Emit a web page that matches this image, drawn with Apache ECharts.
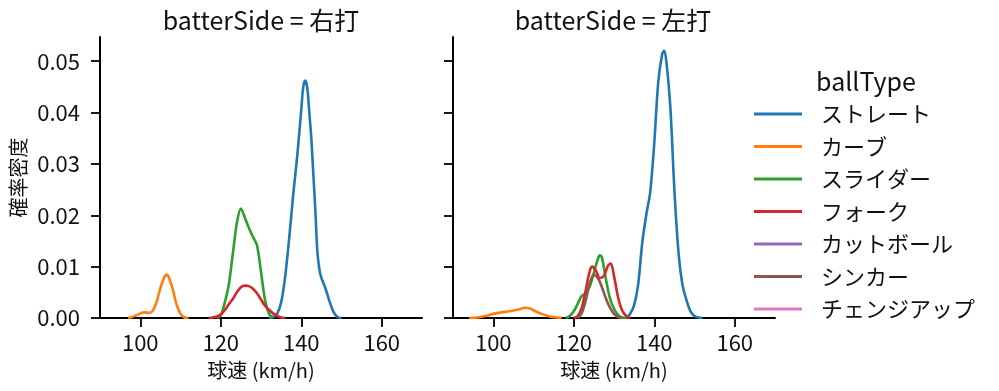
<!DOCTYPE html>
<html><head><meta charset="utf-8">
<script src="https://cdn.jsdelivr.net/npm/echarts@6/dist/echarts.min.js"></script>
<style>html,body{margin:0;padding:0;background:#fff}#c{width:999px;height:391px}</style>
</head><body><div id="c"></div>
<script>
// ---- data ----
const panels = ['右打', '左打'];
const ballTypes = ['ストレート', 'カーブ', 'スライダー', 'フォーク', 'カットボール', 'シンカー', 'チェンジアップ'];
const xTicks = [100, 120, 140, 160];
const yTicks = [0, 0.01, 0.02, 0.03, 0.04, 0.05];

// batterSide = 右打
const rStraight = [[132,0],[133,0.0002],[134,0.0008],[135,0.003],[136,0.008],[137,0.0155],[138,0.024],[139,0.0315],[140,0.0405],[140.5,0.045],[141,0.0462],[141.5,0.0448],[142,0.040],[142.5,0.035],[143,0.028],[143.5,0.021],[144,0.013],[144.5,0.0095],[145,0.0078],[146,0.0058],[147,0.0033],[148,0.0012],[149,0.0002],[150,0]];
const rCurve = [[97,0],[98,0.0002],[99,0.0005],[100,0.0009],[101,0.0011],[102,0.001],[103,0.0013],[104,0.003],[105,0.0058],[106,0.008],[106.5,0.0084],[107,0.0081],[108,0.0058],[109,0.0027],[110,0.0008],[111,0.0001],[112,0]];
const rSlider = [[119,0],[120,0.0005],[121,0.003],[122,0.0065],[123,0.0125],[124,0.0185],[125,0.0213],[126,0.0195],[127,0.0175],[128,0.0158],[129,0.0142],[130,0.009],[131,0.0035],[132,0.0008],[133,0]];
const rFork = [[117,0],[118,0.0001],[119,0.0003],[120,0.0007],[121,0.0015],[122,0.0027],[123,0.0037],[124,0.005],[125,0.006],[126,0.0063],[127,0.0062],[128,0.0057],[129,0.0048],[130,0.0036],[131,0.0024],[132,0.0016],[133,0.0009],[134,0.0004],[135,0.0001],[136,0]];

// batterSide = 左打
const lStraight = [[133,0],[134,0.0008],[135,0.0025],[136,0.0065],[137,0.0145],[138,0.020],[139,0.0245],[140,0.034],[141,0.046],[142,0.0515],[142.5,0.052],[143,0.050],[144,0.041],[145,0.025],[146,0.013],[147,0.0065],[148,0.0035],[149,0.0013],[150,0.0004],[151,0.0001],[152,0]];
const lCurve = [[94,0],[96,0.0001],[98,0.0004],[100,0.0008],[102,0.0011],[104,0.0013],[106,0.0016],[108,0.002],[109,0.0019],[110,0.0015],[112,0.0008],[114,0.0003],[116,0.0001],[117,0]];
const lSlider = [[118,0],[119,0.0004],[120,0.0013],[121,0.0028],[122,0.0043],[123,0.0048],[124,0.0062],[125,0.0088],[126,0.0115],[126.5,0.0122],[127,0.0118],[128,0.0075],[129,0.0038],[130,0.0018],[131,0.0006],[132,0.0001],[133,0]];
const lFork = [[120,0],[121,0.0004],[122,0.002],[123,0.0055],[124,0.0092],[124.6,0.010],[125.5,0.0092],[126.5,0.0078],[127.5,0.0082],[128.5,0.0102],[129.2,0.0106],[130,0.0082],[131,0.0041],[132,0.0015],[133,0.0004],[134,0]];
const lSinker = [[121,0],[122,0.001],[123,0.0035],[124,0.0068],[125,0.0084],[126,0.0078],[127,0.006],[128,0.0038],[129,0.002],[130,0.0008],[131,0.0002],[132,0]];

const panelData = [
  {'ストレート': rStraight, 'カーブ': rCurve, 'スライダー': rSlider, 'フォーク': rFork},
  {'ストレート': lStraight, 'カーブ': lCurve, 'スライダー': lSlider, 'フォーク': lFork, 'シンカー': lSinker}
];

// ---- style ----
const colors = ['#1f77b4', '#ff7f0e', '#2ca02c', '#d62728', '#9467bd', '#8c564b', '#e377c2'];
const FONT = '"Noto Sans CJK JP", "Noto Sans", sans-serif';
const gridLefts = [100, 453];

const grids = [], xAxes = [], yAxes = [], series = [];
panels.forEach((p, i) => {
  grids.push({left: gridLefts[i], top: 37, width: 322, height: 281});
  xAxes.push({
    type: 'value', gridIndex: i, min: 90, max: 170,
    axisLine: {show: true, lineStyle: {color: '#000', width: 2}},
    axisTick: {show: true, customValues: xTicks, length: 9, lineStyle: {color: '#000', width: 1.8}},
    axisLabel: {customValues: xTicks, fontSize: 22, color: '#111', margin: 14, fontFamily: FONT},
    splitLine: {show: false},
    name: '球速 (km/h)', nameLocation: 'middle', nameGap: 42,
    nameTextStyle: {fontSize: 20, color: '#111', fontFamily: FONT}
  });
  yAxes.push({
    type: 'value', gridIndex: i, min: 0, max: 0.0547,
    axisLine: {show: true, lineStyle: {color: '#000', width: 2}},
    axisTick: {show: true, customValues: yTicks, length: 9, lineStyle: {color: '#000', width: 1.8}},
    axisLabel: {show: i === 0, customValues: yTicks, formatter: v => v.toFixed(2), fontSize: 22, color: '#111', margin: 20, fontFamily: FONT},
    splitLine: {show: false},
    name: i === 0 ? '確率密度' : '', nameLocation: 'middle', nameRotate: 90, nameGap: 72,
    nameTextStyle: {fontSize: 20, color: '#111', fontFamily: FONT}
  });
  ballTypes.forEach((b, k) => {
    series.push({
      type: 'line', name: b, xAxisIndex: i, yAxisIndex: i,
      data: panelData[i][b] || [],
      smooth: 0.3, symbol: 'none',
      lineStyle: {color: colors[k], width: 2.6},
      itemStyle: {color: colors[k]},
      z: 2 + k
    });
  });
});

const chart = echarts.init(document.getElementById('c'), null, {renderer: 'canvas'});
chart.setOption({
  animation: false,
  backgroundColor: '#fff',
  grid: grids, xAxis: xAxes, yAxis: yAxes, series: series,
  legend: {
    data: ballTypes, orient: 'vertical', left: 754, top: 103, padding: 0,
    icon: 'rect', itemWidth: 48, itemHeight: 3, itemGap: 10.5,
    textStyle: {fontSize: 22, lineHeight: 22, color: '#111', fontFamily: FONT, padding: [0, 0, 0, 14]}
  },
  graphic: [
    {type: 'text', left: 'center', x: 0, style: {text: ''}},
    {type: 'text', x: 261, y: 20, style: {text: 'batterSide = ' + panels[0], fontSize: 25, fill: '#111', fontFamily: FONT, align: 'center', verticalAlign: 'middle'}},
    {type: 'text', x: 613, y: 20, style: {text: 'batterSide = ' + panels[1], fontSize: 25, fill: '#111', fontFamily: FONT, align: 'center', verticalAlign: 'middle'}},
    {type: 'text', x: 866, y: 81, style: {text: 'ballType', fontSize: 25, fill: '#111', fontFamily: FONT, align: 'center', verticalAlign: 'middle'}}
  ]
});
</script></body></html>
